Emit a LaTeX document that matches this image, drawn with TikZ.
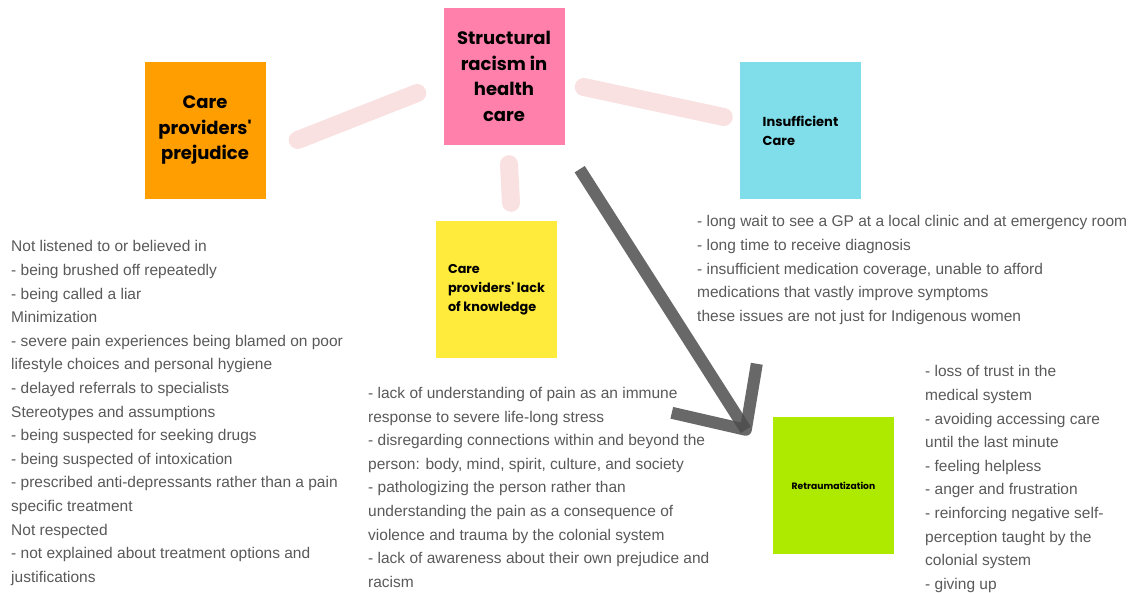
\documentclass[tikz,border=0pt]{standalone}
\usepackage{fontspec}
\setmainfont{Liberation Sans}
\newfontfamily\notefont{Poppins}
\usepackage{pgf,tikz}

\definecolor{notepink}{HTML}{FF80AB}
\definecolor{noteorange}{HTML}{FF9E00}
\definecolor{notecyan}{HTML}{80DEEA}
\definecolor{noteyellow}{HTML}{FFEB3B}
\definecolor{notegreen}{HTML}{AEEA00}
\definecolor{inkgrey}{HTML}{595959}
\definecolor{blush}{HTML}{F9E1E1}
\definecolor{charcoal}{HTML}{4D4D4D}

\begin{document}
\begin{tikzpicture}[x=1pt,y=-1pt]
			\tikzstyle{note}=[minimum width=121pt,minimum height=137pt,inner sep=0pt]
			\tikzstyle{big}=[font=\notefont\bfseries\fontsize{18}{25.5}\selectfont,align=center]
			\tikzstyle{small}=[font=\notefont\bfseries\fontsize{13}{18.5}\selectfont,align=left]
			\tikzstyle{list}=[anchor=north west,inner sep=0pt,align=left,text=inkgrey,
				font=\fontsize{15.5}{23.6}\selectfont]
			\tikzstyle{link}=[draw=blush,line width=18pt,line cap=round]
			\tikzstyle{pen}=[draw=charcoal,line width=12pt,opacity=.85]
			\useasboundingbox (0,0) rectangle (1133,593);
			\node[note,big,fill=notepink] (racism) at (504,76.5) {Structural\\racism in\\health\\care};
			\node[note,big,fill=noteorange] (prejudice) at (205,130.5) {Care\\providers'\\prejudice};
			\node[note,small,fill=notecyan] (insufficient) at (800.5,131) {Insufficient\\Care};
			\node[note,small,fill=noteyellow,font=\notefont\bfseries\fontsize{12.8}{19}\selectfont] (knowledge) at (496.5,289.5) {Care\\providers' lack\\of knowledge};
			\node[note,fill=notegreen,font=\notefont\bfseries\fontsize{9.2}{11}\selectfont] (retrauma) at (833.5,485.5) {Retraumatization};
			\draw[link] ([shift={(32,9.5)}]prejudice.east) -- ([shift={(-26,16.5)}]racism.west);
			\draw[link] ([shift={(19,10.5)}]racism.east) -- ([shift={(-16,-14)}]insufficient.west);
			\draw[link] ([shift={(5,19)}]racism.south) -- ([shift={(14.5,-18)}]knowledge.north);
			\coordinate (tip) at ([shift={(-27,13)}]retrauma.north west);
			\draw[pen] ([shift={(15,24)}]racism.south east) -- (tip);
			\draw[pen,line join=round] ([shift={(-74,-17)}]tip) -- (tip) -- ([shift={(11,-66)}]tip);
			\node[list] (prejudice-notes) at (11,240.5) {Not listened to or believed in\\
				- being brushed off repeatedly\\
				- being called a liar\\
				Minimization\\
				- severe pain experiences being blamed on poor\\
				lifestyle choices and personal hygiene\\
				- delayed referrals to specialists\\
				Stereotypes and assumptions\\
				- being suspected for seeking drugs\\
				- being suspected of intoxication\\
				- prescribed anti-depressants rather than a pain\\
				specific treatment\\
				Not respected\\
				- not explained about treatment options and\\
				justifications};
			\node[list] (knowledge-notes) at (368,387.1) {- lack of understanding of pain as an immune\\
				response to severe life-long stress\\
				- disregarding connections within and beyond the\\
				person: body, mind, spirit, culture, and society\\
				- pathologizing the person rather than\\
				understanding the pain as a consequence of\\
				violence and trauma by the colonial system\\
				- lack of awareness about their own prejudice and\\
				racism};
			\node[list] (insufficient-notes) at (697,215.5) {- long wait to see a GP at a local clinic and at emergency room\\
				- long time to receive diagnosis\\
				- insufficient medication coverage, unable to afford\\
				medications that vastly improve symptoms\\
				these issues are not just for Indigenous women};
			\node[list] (retrauma-notes) at (925,365.5) {- loss of trust in the\\
				medical system\\
				- avoiding accessing care\\
				until the last minute\\
				- feeling helpless\\
				- anger and frustration\\
				- reinforcing negative self-\\
				perception taught by the\\
				colonial system\\
				- giving up};
		\end{tikzpicture}
\end{document}
